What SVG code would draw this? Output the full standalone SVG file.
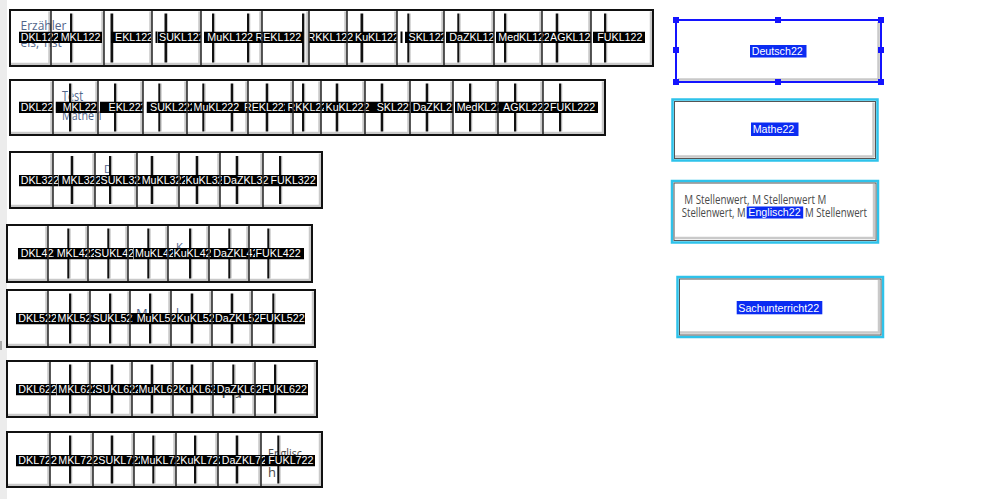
<svg xmlns="http://www.w3.org/2000/svg" width="999" height="499" viewBox="0 0 999 499">
<defs>
<linearGradient id="vg" x1="0" y1="0" x2="1" y2="0">
<stop offset="0" stop-color="#111"/><stop offset="0.6" stop-color="#111"/><stop offset="0.6" stop-color="#9a9a9a"/><stop offset="1" stop-color="#dcdcdc"/>
</linearGradient>
</defs>
<style>
.bg{fill:#fff}
.frame{fill:none;stroke:#111;stroke-width:2}
.bev{fill:none;stroke:#c9c9c9;stroke-width:2.5}
.div{fill:none;stroke:#222;stroke-width:1.5}
.vl{fill:url(#vg)}
.lb{fill:#000}
.lt{fill:#fff;font-family:"Liberation Sans",Arial,sans-serif;font-size:10.7px}
.hw{font-family:"Open Sans","Liberation Sans",sans-serif;font-weight:400;fill:#51658a}
.hg{font-family:"Open Sans","Liberation Sans",sans-serif;font-weight:400;fill:#4a4a4a}
.bl{fill:#0b2cf2}
.cy{fill:#fff;stroke:#2ec2ea;stroke-width:2.5}
.in{fill:none;stroke:#555;stroke-width:1}
.hd{fill:#1414ff}
</style>
<rect x="0" y="0" width="7" height="499" fill="#ececec"/>
<rect x="0" y="341" width="2" height="9" fill="#aaa"/>

<g id="row1">
<rect class="bg" x="10" y="10" width="643" height="56"/>
<path class="bev" d="M49.5 11.5V64.5M102.5 11.5V64.5M150.5 11.5V64.5M199.5 11.5V64.5M260.5 11.5V64.5M307.5 11.5V64.5M345.5 11.5V64.5M395.5 11.5V64.5M442.5 11.5V64.5M492.5 11.5V64.5M540.5 11.5V64.5M589.5 11.5V64.5M651 11.5V64.5M11 64H652"/>
<text class="hw" x="20.5" y="30" font-size="12">Erzähler</text>
<text class="hw" x="20.5" y="47" font-size="12">eis, Tist</text>
<g id="DKL122"><svg x="19" y="31.5" width="39" height="11.5"><rect class="lb" width="100%" height="100%"/><text class="lt" x="1.7" y="9.3">DKL122</text></svg></g>
<g id="MKL122"><rect class="vl" x="70" y="13.5" width="3.5" height="49"/><svg x="58" y="31.5" width="44" height="11.5"><rect class="lb" width="100%" height="100%"/><text class="lt" x="2.7" y="9.3">MKL122</text></svg></g>
<g id="EKL122"><rect class="vl" x="110.5" y="13.5" width="3.5" height="49"/><svg x="111" y="31.5" width="40" height="11.5"><rect class="lb" width="100%" height="100%"/><text class="lt" x="4" y="9.3">EKL122</text></svg></g>
<g id="SUKL122"><rect class="vl" x="164.5" y="13.5" width="3.5" height="49"/><rect class="lb" x="155.5" y="31.5" width="2" height="11.5"/><svg x="158" y="31.5" width="43" height="11.5"><rect class="lb" width="100%" height="100%"/><text class="lt" x="1" y="9.3">SUKL122</text></svg></g>
<g id="MuKL122"><rect class="vl" x="212" y="13.5" width="3.5" height="49"/><rect class="vl" x="247" y="13.5" width="3.5" height="49"/><svg x="204" y="31.5" width="51" height="11.5"><rect class="lb" width="100%" height="100%"/><text class="lt" x="3.3" y="9.3">MuKL122</text></svg></g>
<g id="REKL122"><rect class="vl" x="302" y="13.5" width="3.5" height="49"/><svg x="255" y="31.5" width="48" height="11.5"><rect class="lb" width="100%" height="100%"/><text class="lt" x="0.5" y="9.3">REKL122</text></svg></g>
<g id="RKKL122"><svg x="309" y="31.5" width="44" height="11.5"><rect class="lb" width="100%" height="100%"/><text class="lt" x="-1.5" y="9.3">RKKL122</text></svg></g>
<g id="KuKL122"><rect class="vl" x="360.5" y="13.5" width="3.5" height="49"/><svg x="353" y="31.5" width="44" height="11.5"><rect class="lb" width="100%" height="100%"/><text class="lt" x="2" y="9.3">KuKL122</text></svg></g>
<g id="SKL122"><rect class="vl" x="407.3" y="13.5" width="3.5" height="49"/><rect class="lb" x="400.5" y="31.5" width="2" height="11.5"/><svg x="405" y="31.5" width="39" height="11.5"><rect class="lb" width="100%" height="100%"/><text class="lt" x="3.5" y="9.3">SKL122</text></svg></g>
<g id="DaZKL122"><rect class="vl" x="457.3" y="13.5" width="3.5" height="49"/><svg x="446" y="31.5" width="48" height="11.5"><rect class="lb" width="100%" height="100%"/><text class="lt" x="3.3" y="9.3">DaZKL122</text></svg></g>
<g id="MedKL122"><rect class="vl" x="504" y="13.5" width="3.5" height="49"/><svg x="496" y="31.5" width="53" height="11.5"><rect class="lb" width="100%" height="100%"/><text class="lt" x="2.3" y="9.3">MedKL122</text></svg></g>
<g id="AGKL122"><rect class="vl" x="555.7" y="13.5" width="3.5" height="49"/><svg x="549" y="31.5" width="42" height="11.5"><rect class="lb" width="100%" height="100%"/><text class="lt" x="1" y="9.3">AGKL122</text></svg></g>
<g id="FUKL122"><rect class="vl" x="604" y="13.5" width="3.5" height="49"/><svg x="593" y="31.5" width="52" height="11.5"><rect class="lb" width="100%" height="100%"/><text class="lt" x="4.3" y="9.3">FUKL122</text></svg></g>
<path class="div" d="M51 10V66M104 10V66M152 10V66M201 10V66M262 10V66M309 10V66M347 10V66M397 10V66M444 10V66M494 10V66M542 10V66M591 10V66"/>
<rect class="frame" x="10" y="10" width="643" height="56"/>
</g>

<g id="row2">
<rect class="bg" x="10" y="80" width="595" height="55"/>
<path class="bev" d="M51.5 81.5V133.5M96.5 81.5V133.5M141.5 81.5V133.5M185.5 81.5V133.5M246.5 81.5V133.5M291.5 81.5V133.5M319.5 81.5V133.5M363.5 81.5V133.5M408.5 81.5V133.5M451.5 81.5V133.5M496.5 81.5V133.5M541.5 81.5V133.5M603 81.5V133.5M11 133H604"/>
<text class="hw" x="62" y="101" font-size="14" textLength="21" lengthAdjust="spacingAndGlyphs">Test</text>
<text class="hw" x="62" y="120" font-size="13" textLength="41" lengthAdjust="spacingAndGlyphs">Mathe 1</text>
<g id="DKL222"><svg x="19" y="101.5" width="34" height="11.5"><rect class="lb" width="100%" height="100%"/><text class="lt" x="1.7" y="9.3">DKL222</text></svg></g>
<g id="MKL222"><rect class="vl" x="69" y="83.5" width="3.5" height="48"/><svg x="55.5" y="101.5" width="42" height="11.5"><rect class="lb" width="100%" height="100%"/><text class="lt" x="7.2" y="9.3">MKL222</text></svg></g>
<g id="EKL222"><rect class="vl" x="114" y="83.5" width="3.5" height="48"/><svg x="100" y="101.5" width="43" height="11.5"><rect class="lb" width="100%" height="100%"/><text class="lt" x="8.5" y="9.3">EKL222</text></svg></g>
<g id="SUKL222"><rect class="vl" x="158.3" y="83.5" width="3.5" height="48"/><svg x="146.5" y="101.5" width="45.5" height="11.5"><rect class="lb" width="100%" height="100%"/><text class="lt" x="3.5" y="9.3">SUKL222</text></svg></g>
<g id="MuKL222"><rect class="vl" x="202.3" y="83.5" width="3.5" height="48"/><rect class="vl" x="230.7" y="83.5" width="3.5" height="48"/><svg x="192" y="101.5" width="50" height="11.5"><rect class="lb" width="100%" height="100%"/><text class="lt" x="1.5" y="9.3">MuKL222</text></svg></g>
<g id="REKL222"><rect class="vl" x="265.7" y="83.5" width="3.5" height="48"/><svg x="242" y="101.5" width="43" height="11.5"><rect class="lb" width="100%" height="100%"/><text class="lt" x="2" y="9.3">REKL222</text></svg></g>
<g id="RKKL222"><rect class="vl" x="302" y="83.5" width="3.5" height="48"/><svg x="285" y="101.5" width="39" height="11.5"><rect class="lb" width="100%" height="100%"/><text class="lt" x="2.5" y="9.3">RKKL222</text></svg></g>
<g id="KuKL222"><rect class="vl" x="335.7" y="83.5" width="3.5" height="48"/><svg x="324" y="101.5" width="47" height="11.5"><rect class="lb" width="100%" height="100%"/><text class="lt" x="1.5" y="9.3">KuKL222</text></svg></g>
<g id="SKL222"><rect class="vl" x="380.7" y="83.5" width="3.5" height="48"/><svg x="371" y="101.5" width="39" height="11.5"><rect class="lb" width="100%" height="100%"/><text class="lt" x="5.7" y="9.3">SKL222</text></svg></g>
<g id="DaZKL222"><rect class="vl" x="425.7" y="83.5" width="3.5" height="48"/><svg x="411" y="101.5" width="42" height="11.5"><rect class="lb" width="100%" height="100%"/><text class="lt" x="1.7" y="9.3">DaZKL222</text></svg></g>
<g id="MedKL222"><rect class="vl" x="469" y="83.5" width="3.5" height="48"/><svg x="455" y="101.5" width="44" height="11.5"><rect class="lb" width="100%" height="100%"/><text class="lt" x="1.7" y="9.3">MedKL222</text></svg></g>
<g id="AGKL222"><rect class="vl" x="514" y="83.5" width="3.5" height="48"/><svg x="499" y="101.5" width="50" height="11.5"><rect class="lb" width="100%" height="100%"/><text class="lt" x="4" y="9.3">AGKL222</text></svg></g>
<g id="FUKL222"><rect class="vl" x="559" y="83.5" width="3.5" height="48"/><svg x="549" y="101.5" width="49" height="11.5"><rect class="lb" width="100%" height="100%"/><text class="lt" x="1" y="9.3">FUKL222</text></svg></g>
<path class="div" d="M53 80V135M98 80V135M143 80V135M187 80V135M248 80V135M293 80V135M321 80V135M365 80V135M410 80V135M453 80V135M498 80V135M543 80V135"/>
<rect class="frame" x="10" y="80" width="595" height="55"/>
</g>

<g id="row3">
<rect class="bg" x="10" y="152" width="312" height="56"/>
<path class="bev" d="M51.5 153.5V206.5M93.5 153.5V206.5M135.5 153.5V206.5M177.5 153.5V206.5M218.5 153.5V206.5M261.5 153.5V206.5M320 153.5V206.5M11 206H321"/>
<text class="hw" x="104" y="173" font-size="11">D</text>
<g id="DKL322"><svg x="19" y="175" width="39.5" height="11.5"><rect class="lb" width="100%" height="100%"/><text class="lt" x="1.7" y="9.3">DKL322</text></svg></g>
<g id="MKL322"><rect class="vl" x="70.7" y="156" width="3.5" height="48"/><svg x="58.5" y="175" width="41.5" height="11.5"><rect class="lb" width="100%" height="100%"/><text class="lt" x="3.2" y="9.3">MKL322</text></svg></g>
<g id="SUKL322"><rect class="vl" x="109" y="156" width="3.5" height="48"/><svg x="100" y="175" width="41" height="11.5"><rect class="lb" width="100%" height="100%"/><text class="lt" x="0.5" y="9.3">SUKL322</text></svg></g>
<g id="MuKL322"><rect class="vl" x="150.7" y="156" width="3.5" height="48"/><svg x="141" y="175" width="44" height="11.5"><rect class="lb" width="100%" height="100%"/><text class="lt" x="0.7" y="9.3">MuKL322</text></svg></g>
<g id="KuKL322"><rect class="vl" x="195.7" y="156" width="3.5" height="48"/><svg x="185" y="175" width="37" height="11.5"><rect class="lb" width="100%" height="100%"/><text class="lt" x="0.5" y="9.3">KuKL322</text></svg></g>
<g id="DaZKL322"><rect class="vl" x="235.7" y="156" width="3.5" height="48"/><svg x="222" y="175" width="47" height="11.5"><rect class="lb" width="100%" height="100%"/><text class="lt" x="1.3" y="9.3">DaZKL322</text></svg></g>
<g id="FUKL322"><rect class="vl" x="279" y="156" width="3.5" height="48"/><svg x="269" y="175" width="48" height="11.5"><rect class="lb" width="100%" height="100%"/><text class="lt" x="1.5" y="9.3">FUKL322</text></svg></g>
<path class="div" d="M53 152V208M95 152V208M137 152V208M179 152V208M220 152V208M263 152V208"/>
<rect class="frame" x="10" y="152" width="312" height="56"/>
</g>

<g id="row4">
<rect class="bg" x="7" y="225" width="305" height="57"/>
<path class="bev" d="M46.5 226.5V280.5M86.5 226.5V280.5M126.5 226.5V280.5M166.5 226.5V280.5M207.5 226.5V280.5M247.5 226.5V280.5M310 226.5V280.5M8 280H311"/>
<text class="hw" x="176" y="251" font-size="11">K</text>
<text class="hw" x="229" y="251" font-size="11">l</text>
<g id="DKL422"><svg x="18" y="248" width="36" height="11.5"><rect class="lb" width="100%" height="100%"/><text class="lt" x="2.7" y="9.3">DKL422</text></svg></g>
<g id="MKL422"><rect class="vl" x="67.3" y="228.5" width="3.5" height="50"/><svg x="54" y="248" width="40" height="11.5"><rect class="lb" width="100%" height="100%"/><text class="lt" x="2.7" y="9.3">MKL422</text></svg></g>
<g id="SUKL422"><rect class="vl" x="107.3" y="228.5" width="3.5" height="50"/><svg x="94" y="248" width="39.4" height="11.5"><rect class="lb" width="100%" height="100%"/><text class="lt" x="0.3" y="9.3">SUKL422</text></svg></g>
<g id="MuKL422"><rect class="vl" x="147.3" y="228.5" width="3.5" height="50"/><svg x="133.4" y="248" width="39.6" height="11.5"><rect class="lb" width="100%" height="100%"/><text class="lt" x="1.6" y="9.3">MuKL422</text></svg></g>
<g id="KuKL422"><rect class="vl" x="189" y="228.5" width="3.5" height="50"/><svg x="173" y="248" width="38" height="11.5"><rect class="lb" width="100%" height="100%"/><text class="lt" x="0.5" y="9.3">KuKL422</text></svg></g>
<g id="DaZKL422"><rect class="vl" x="228.3" y="228.5" width="3.5" height="50"/><svg x="211" y="248" width="44" height="11.5"><rect class="lb" width="100%" height="100%"/><text class="lt" x="2.3" y="9.3">DaZKL422</text></svg></g>
<g id="FUKL422"><rect class="vl" x="267.3" y="228.5" width="3.5" height="50"/><svg x="255" y="248" width="49" height="11.5"><rect class="lb" width="100%" height="100%"/><text class="lt" x="0.5" y="9.3">FUKL422</text></svg></g>
<path class="div" d="M48 225V282M88 225V282M128 225V282M168 225V282M209 225V282M249 225V282"/>
<rect class="frame" x="7" y="225" width="305" height="57"/>
</g>

<g id="row5">
<rect class="bg" x="7" y="290" width="308" height="57"/>
<path class="bev" d="M46.5 291.5V345.5M88.5 291.5V345.5M128.5 291.5V345.5M169.5 291.5V345.5M210.5 291.5V345.5M250.5 291.5V345.5M313 291.5V345.5M8 345H314"/>
<text class="hw" x="136" y="318" font-size="13">M</text>
<text class="hw" x="176" y="318" font-size="12">l</text>
<g id="DKL522"><svg x="16" y="313" width="40" height="11.5"><rect class="lb" width="100%" height="100%"/><text class="lt" x="2.3" y="9.3">DKL522</text></svg></g>
<g id="MKL522"><rect class="vl" x="69" y="293.5" width="3.5" height="50"/><svg x="56" y="313" width="36" height="11.5"><rect class="lb" width="100%" height="100%"/><text class="lt" x="1.5" y="9.3">MKL522</text></svg></g>
<g id="SUKL522"><rect class="vl" x="109" y="293.5" width="3.5" height="50"/><svg x="92" y="313" width="41" height="11.5"><rect class="lb" width="100%" height="100%"/><text class="lt" x="0.5" y="9.3">SUKL522</text></svg></g>
<g id="MuKL522"><rect class="vl" x="149" y="293.5" width="3.5" height="50"/><svg x="133" y="313" width="43" height="11.5"><rect class="lb" width="100%" height="100%"/><text class="lt" x="3.7" y="9.3">MuKL522</text></svg></g>
<g id="KuKL522"><rect class="vl" x="190.7" y="293.5" width="3.5" height="50"/><svg x="176" y="313" width="38" height="11.5"><rect class="lb" width="100%" height="100%"/><text class="lt" x="0.7" y="9.3">KuKL522</text></svg></g>
<g id="DaZKL522"><rect class="vl" x="230.7" y="293.5" width="3.5" height="50"/><svg x="214" y="313" width="45" height="11.5"><rect class="lb" width="100%" height="100%"/><text class="lt" x="1" y="9.3">DaZKL522</text></svg></g>
<g id="FUKL522"><rect class="vl" x="272.3" y="293.5" width="3.5" height="50"/><svg x="259" y="313" width="46" height="11.5"><rect class="lb" width="100%" height="100%"/><text class="lt" x="0.5" y="9.3">FUKL522</text></svg></g>
<path class="div" d="M48 290V347M90 290V347M130 290V347M171 290V347M212 290V347M252 290V347"/>
<rect class="frame" x="7" y="290" width="308" height="57"/>
</g>

<g id="row6">
<rect class="bg" x="7" y="361" width="310" height="56"/>
<path class="bev" d="M48.5 362.5V415.5M88.5 362.5V415.5M130.5 362.5V415.5M171.5 362.5V415.5M211.5 362.5V415.5M253.5 362.5V415.5M315 362.5V415.5M8 415H316"/>
<text class="hg" x="221" y="398" font-size="19">Fü</text>
<g id="DKL622"><svg x="16" y="384" width="40.5" height="11.5"><rect class="lb" width="100%" height="100%"/><text class="lt" x="2.3" y="9.3">DKL622</text></svg></g>
<g id="MKL622"><rect class="vl" x="69" y="364.5" width="3.5" height="49"/><svg x="56.5" y="384" width="38.5" height="11.5"><rect class="lb" width="100%" height="100%"/><text class="lt" x="1.8" y="9.3">MKL622</text></svg></g>
<g id="SUKL622"><rect class="vl" x="110.7" y="364.5" width="3.5" height="49"/><svg x="95" y="384" width="43" height="11.5"><rect class="lb" width="100%" height="100%"/><text class="lt" x="0.3" y="9.3">SUKL622</text></svg></g>
<g id="MuKL622"><rect class="vl" x="150.7" y="364.5" width="3.5" height="49"/><svg x="138" y="384" width="40" height="11.5"><rect class="lb" width="100%" height="100%"/><text class="lt" x="0.5" y="9.3">MuKL622</text></svg></g>
<g id="KuKL622"><rect class="vl" x="190.7" y="364.5" width="3.5" height="49"/><svg x="178" y="384" width="37" height="11.5"><rect class="lb" width="100%" height="100%"/><text class="lt" x="0.5" y="9.3">KuKL622</text></svg></g>
<g id="DaZKL622"><rect class="vl" x="232.3" y="364.5" width="3.5" height="49"/><svg x="215" y="384" width="46" height="11.5"><rect class="lb" width="100%" height="100%"/><text class="lt" x="1.7" y="9.3">DaZKL622</text></svg></g>
<g id="FUKL622"><rect class="vl" x="274" y="364.5" width="3.5" height="49"/><svg x="261" y="384" width="47" height="11.5"><rect class="lb" width="100%" height="100%"/><text class="lt" x="0.7" y="9.3">FUKL622</text></svg></g>
<path class="div" d="M50 361V417M90 361V417M132 361V417M173 361V417M213 361V417M255 361V417"/>
<rect class="frame" x="7" y="361" width="310" height="56"/>
</g>

<g id="row7">
<rect class="bg" x="7" y="432" width="315" height="55"/>
<path class="bev" d="M48.5 433.5V485.5M91.5 433.5V485.5M132.5 433.5V485.5M174.5 433.5V485.5M216.5 433.5V485.5M259.5 433.5V485.5M320 433.5V485.5M8 485H321"/>
<text class="hg" x="268" y="458" font-size="13" textLength="34" lengthAdjust="spacingAndGlyphs">Englisc</text>
<text class="hg" x="268" y="477" font-size="13">h</text>
<g id="DKL722"><svg x="16" y="455" width="41" height="11.5"><rect class="lb" width="100%" height="100%"/><text class="lt" x="2.3" y="9.3">DKL722</text></svg></g>
<g id="MKL722"><rect class="vl" x="69" y="435.5" width="3.5" height="48"/><svg x="57" y="455" width="41" height="11.5"><rect class="lb" width="100%" height="100%"/><text class="lt" x="1.3" y="9.3">MKL722</text></svg></g>
<g id="SUKL722"><rect class="vl" x="110.7" y="435.5" width="3.5" height="48"/><svg x="98" y="455" width="42" height="11.5"><rect class="lb" width="100%" height="100%"/><text class="lt" x="0.3" y="9.3">SUKL722</text></svg></g>
<g id="MuKL722"><rect class="vl" x="152.3" y="435.5" width="3.5" height="48"/><svg x="140" y="455" width="40" height="11.5"><rect class="lb" width="100%" height="100%"/><text class="lt" x="0.5" y="9.3">MuKL722</text></svg></g>
<g id="KuKL722"><rect class="vl" x="194" y="435.5" width="3.5" height="48"/><svg x="180" y="455" width="40" height="11.5"><rect class="lb" width="100%" height="100%"/><text class="lt" x="0.3" y="9.3">KuKL722</text></svg></g>
<g id="DaZKL722"><rect class="vl" x="235.7" y="435.5" width="3.5" height="48"/><svg x="220" y="455" width="45" height="11.5"><rect class="lb" width="100%" height="100%"/><text class="lt" x="1.7" y="9.3">DaZKL722</text></svg></g>
<g id="FUKL722"><rect class="vl" x="277.3" y="435.5" width="3.5" height="48"/><svg x="265" y="455" width="50" height="11.5"><rect class="lb" width="100%" height="100%"/><text class="lt" x="3.3" y="9.3">FUKL722</text></svg></g>
<path class="div" d="M50 432V487M93 432V487M134 432V487M176 432V487M218 432V487M261 432V487"/>
<rect class="frame" x="7" y="432" width="315" height="55"/>
</g>

<g id="Deutsch22">
<rect x="676" y="20" width="205" height="62" fill="#fff" stroke="#1414ff" stroke-width="2"/>
<path class="bev" d="M878.5 22V80M678 79.5H879"/>
<rect class="bl" x="750" y="45" width="56.5" height="12.5"/>
<text class="lt" x="751.7" y="55">Deutsch22</text>
<rect class="hd" x="673" y="17" width="6" height="6"/><rect class="hd" x="775" y="17" width="6" height="6"/><rect class="hd" x="878" y="17" width="6" height="6"/>
<rect class="hd" x="673" y="47" width="6" height="6"/><rect class="hd" x="878" y="47" width="6" height="6"/>
<rect class="hd" x="673" y="79" width="6" height="6"/><rect class="hd" x="775" y="79" width="6" height="6"/><rect class="hd" x="878" y="79" width="6" height="6"/>
</g>

<g id="Mathe22">
<rect class="cy" x="672.5" y="99.5" width="205" height="61"/>
<rect class="in" x="674.5" y="101.5" width="201" height="57"/>
<path class="bev" d="M873.5 102.5V157M675 156.5H874"/>
<rect class="bl" x="751" y="122.5" width="47.5" height="13.5"/>
<text class="lt" x="752.7" y="133.3">Mathe22</text>
</g>

<g id="Englisch22">
<rect class="cy" x="672" y="181" width="206" height="61.5"/>
<rect class="in" x="674" y="183" width="202" height="57.5"/>
<path class="bev" d="M874 184V238.5M675 238H875"/>
<text class="hg" x="684.3" y="203.5" font-size="12.5" textLength="142" lengthAdjust="spacingAndGlyphs">M Stellenwert, M Stellenwert M</text>
<text class="hg" x="681.7" y="217" font-size="12.5" textLength="64" lengthAdjust="spacingAndGlyphs">Stellenwert, M</text>
<text class="hg" x="805" y="217" font-size="12.5" textLength="62" lengthAdjust="spacingAndGlyphs">M Stellenwert</text>
<rect class="bl" x="746.7" y="206.5" width="56.5" height="12"/>
<text class="lt" x="748.3" y="216.3">Englisch22</text>
</g>

<g id="Sachunterricht22">
<rect class="cy" x="677.5" y="277" width="205.5" height="60"/>
<rect class="in" x="679.5" y="279" width="201.5" height="56"/>
<path class="bev" d="M879 280V333M680 332.5H880"/>
<rect class="bl" x="736.7" y="301" width="85.6" height="13.3"/>
<text class="lt" x="738.3" y="311.5">Sachunterricht22</text>
</g>
</svg>
